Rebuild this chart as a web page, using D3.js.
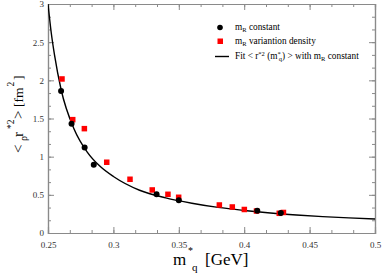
<!DOCTYPE html>
<html>
<head>
<meta charset="utf-8">
<script src="https://cdn.jsdelivr.net/npm/d3@7"></script>
<style>
  body { margin: 0; background: #fff; }
  svg text { font-family: "Liberation Serif", "DejaVu Serif", serif !important; }
</style>
</head>
<body>
<div id="chart"></div>
<script>
// data
const constX = [0.260, 0.268, 0.278, 0.285, 0.333, 0.350, 0.410, 0.428];
const constY = [1.86, 1.43, 1.12, 0.895, 0.507, 0.43, 0.29, 0.262];

const densX = [0.2607, 0.2689, 0.2778, 0.2949, 0.3127, 0.3297, 0.3417, 0.3499,
               0.381, 0.3909, 0.4001, 0.4094, 0.4268, 0.430];
const densY = [2.018, 1.485, 1.367, 0.927, 0.704, 0.564, 0.507, 0.468,
               0.367, 0.341, 0.308, 0.288, 0.258, 0.269];

const fitX = [0.25, 0.2525, 0.255, 0.26, 0.27, 0.28, 0.29, 0.30, 0.32, 0.34, 0.36,
              0.38, 0.40, 0.42, 0.44, 0.46, 0.48, 0.50];
const fitY = [3.0, 2.62, 2.33, 1.88, 1.36, 1.06, 0.87, 0.74, 0.56, 0.46, 0.39,
              0.335, 0.295, 0.262, 0.236, 0.215, 0.198, 0.183];

const xMajor = [0.25, 0.3, 0.35, 0.4, 0.45, 0.5];
const xLabels = ["0.25", "0.3", "0.35", "0.4", "0.45", "0.5"];
const yMajor = [0, 0.5, 1, 1.5, 2, 2.5, 3];
const yLabels = ["0", "0.5", "1", "1.5", "2", "2.5", "3"];

const serif = "'Liberation Serif', 'DejaVu Serif', serif";

// set the dimensions and margins of the graph
const margin = {top: 4, right: 7, bottom: 44, left: 48},
    width = 382 - margin.left - margin.right,
    height = 277 - margin.top - margin.bottom;

const root = d3.select("#chart")
  .append("svg")
    .attr("width", 382)
    .attr("height", 277)
    .style("font-family", serif);

const svg = root.append("g")
    .attr("transform", `translate(${margin.left},${margin.top})`);

const x = d3.scaleLinear().domain([0.25, 0.5]).range([0, width]);
const y = d3.scaleLinear().domain([0, 3]).range([height, 0]);

// minor ticks: three steps per major interval
const xMinor = d3.range(0, 16).map(i => 0.25 + i * 0.05 / 3);
const yMinor = d3.range(0, 19).map(i => i * 0.5 / 3);

const axisCol = "#8a8a8a";

function styleAxis(g) {
  g.attr("font-family", serif);
  g.select(".domain").attr("stroke", axisCol).attr("stroke-width", 1.2);
  g.selectAll(".tick line").attr("stroke", axisCol);
  g.selectAll(".tick text").attr("fill", "#333").style("font-size", "9px");
}

// minor ticks (inward)
svg.append("g").attr("transform", `translate(0,${height})`)
  .call(d3.axisBottom(x).tickValues(xMinor).tickSize(-3).tickFormat(""))
  .call(styleAxis);
svg.append("g")
  .call(d3.axisTop(x).tickValues(xMinor).tickSize(-3).tickFormat(""))
  .call(styleAxis);
svg.append("g")
  .call(d3.axisLeft(y).tickValues(yMinor).tickSize(-3).tickFormat(""))
  .call(styleAxis);
svg.append("g").attr("transform", `translate(${width},0)`)
  .call(d3.axisRight(y).tickValues(yMinor).tickSize(-3).tickFormat(""))
  .call(styleAxis);

// major ticks with labels
svg.append("g").attr("transform", `translate(0,${height})`)
  .call(d3.axisBottom(x).tickValues(xMajor).tickSize(-6)
    .tickFormat((d, i) => xLabels[i]))
  .call(styleAxis)
  .call(g => g.selectAll(".tick text").attr("y", 9));
svg.append("g")
  .call(d3.axisTop(x).tickValues(xMajor).tickSize(-6).tickFormat(""))
  .call(styleAxis);
svg.append("g")
  .call(d3.axisLeft(y).tickValues(yMajor).tickSize(-6)
    .tickFormat((d, i) => yLabels[i]))
  .call(styleAxis)
  .call(g => g.selectAll(".tick text").attr("x", -4));
svg.append("g").attr("transform", `translate(${width},0)`)
  .call(d3.axisRight(y).tickValues(yMajor).tickSize(-6).tickFormat(""))
  .call(styleAxis);

// clip for the fit line
svg.append("clipPath").attr("id", "clip")
  .append("rect").attr("width", width).attr("height", height);

const fitData = fitX.map((d, i) => [d, fitY[i]]);
svg.append("path")
  .datum(fitData)
  .attr("clip-path", "url(#clip)")
  .attr("fill", "none")
  .attr("stroke", "#000")
  .attr("stroke-width", 1.4)
  .attr("d", d3.line().x(d => x(d[0])).y(d => y(d[1])).curve(d3.curveMonotoneX));

// red squares
const sq = 5.5;
svg.selectAll(".dens")
  .data(densX.map((d, i) => [d, densY[i]]))
  .join("rect")
    .attr("x", d => x(d[0]) - sq / 2)
    .attr("y", d => y(d[1]) - sq / 2)
    .attr("width", sq)
    .attr("height", sq)
    .attr("fill", "#ff0000");

// black circles
svg.selectAll(".const")
  .data(constX.map((d, i) => [d, constY[i]]))
  .join("circle")
    .attr("cx", d => x(d[0]))
    .attr("cy", d => y(d[1]))
    .attr("r", 3)
    .attr("fill", "#000");

// legend (page coordinates)
const leg = root.append("g");
leg.append("circle").attr("cx", 220).attr("cy", 27.5).attr("r", 2.8).attr("fill", "#000");
leg.append("rect").attr("x", 217.5).attr("y", 38.5).attr("width", 5.5).attr("height", 5.5).attr("fill", "#ff0000");
leg.append("line").attr("x1", 215).attr("x2", 229).attr("y1", 56.5).attr("y2", 56.5)
  .attr("stroke", "#000").attr("stroke-width", 1.4);

const legFont = "9.3px", subFont = "6.5px";
const t1 = leg.append("text").attr("x", 235).attr("y", 30).style("font-size", legFont);
t1.append("tspan").text("m");
t1.append("tspan").attr("dy", 2).style("font-size", subFont).text("R");
t1.append("tspan").attr("dy", -2).text(" constant");

const t2 = leg.append("text").attr("x", 235).attr("y", 44).style("font-size", legFont);
t2.append("tspan").text("m");
t2.append("tspan").attr("dy", 2).style("font-size", subFont).text("R");
t2.append("tspan").attr("dy", -2).text("  variantion density");

const t3 = leg.append("text").attr("x", 235).attr("y", 59).style("font-size", legFont);
t3.append("tspan").text("Fit  < r");
t3.append("tspan").attr("dy", -3.5).style("font-size", subFont).text("*2");
t3.append("tspan").attr("dy", 3.5).text(" (m");
t3.append("tspan").attr("dy", -3.5).style("font-size", subFont).text("*");
t3.append("tspan").attr("dx", -2).attr("dy", 5.5).style("font-size", subFont).text("q");
t3.append("tspan").attr("dy", -2).text(") > with m");
t3.append("tspan").attr("dy", 2).style("font-size", subFont).text("R");
t3.append("tspan").attr("dy", -2).text(" constant");

// x axis label, pieces placed on the page
const xl = root.append("g");
xl.append("text").attr("x", 173).attr("y", 265).style("font-size", "17px").text("m");
xl.append("text").attr("x", 188).attr("y", 254).style("font-size", "10px").text("*");
xl.append("text").attr("x", 192).attr("y", 271).style("font-size", "11px").text("q");
xl.append("text").attr("x", 205).attr("y", 265).style("font-size", "17px").text("[GeV]");

// y axis label, rotated: local u runs up the page, v to the right
const yl = root.append("g").attr("transform", "translate(23,0) rotate(-90)");
yl.append("text").attr("x", -153).attr("y", 0).style("font-size", "15px").text("<");
yl.append("text").attr("x", -137).attr("y", 0).style("font-size", "15px").text("r");
yl.append("text").attr("x", -129).attr("y", -9).style("font-size", "9.5px").text("*2");
yl.append("text").attr("x", -141).attr("y", 3.5).style("font-size", "10px").text("ρ");
yl.append("text").attr("x", -119).attr("y", 0).style("font-size", "15px").text(">");
yl.append("text").attr("x", -107).attr("y", 0).style("font-size", "13.5px").text("[fm");
yl.append("text").attr("x", -86.5).attr("y", -9).style("font-size", "9.5px").text("2");
yl.append("text").attr("x", -80).attr("y", 0).style("font-size", "13.5px").text("]");
</script>
</body>
</html>
